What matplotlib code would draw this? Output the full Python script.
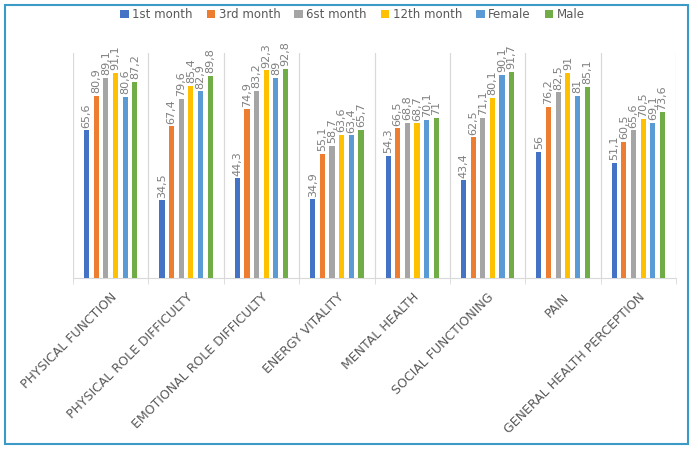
import matplotlib
matplotlib.use('Agg')
import matplotlib.pyplot as plt
import numpy as np
from matplotlib.patches import Rectangle

categories = ['PHYSICAL FUNCTION', 'PHYSICAL ROLE DIFFICULTY', 'EMOTIONAL ROLE DIFFICULTY',
              'ENERGY VITALITY', 'MENTAL HEALTH', 'SOCIAL FUNCTIONING', 'PAIN',
              'GENERAL HEALTH PERCEPTION']
series_names = ['1st month', '3rd month', '6st month', '12th month', 'Female', 'Male']

month1 = [65.6, 34.5, 44.3, 34.9, 54.3, 43.4, 56, 51.1]
month3 = [80.9, 67.4, 74.9, 55.1, 66.5, 62.5, 76.2, 60.5]
month6 = [89.1, 79.6, 83.2, 58.7, 68.8, 71.1, 82.5, 65.6]
month12 = [91.1, 85.4, 92.3, 63.6, 68.7, 80.1, 91, 70.5]
female = [80.6, 82.9, 89, 63.4, 70.1, 90.1, 81, 69.1]
male = [87.2, 89.8, 92.8, 65.7, 71, 91.7, 85.1, 73.6]

series = [month1, month3, month6, month12, female, male]
colors = ['#4472C4', '#ED7D31', '#A5A5A5', '#FFC000', '#5B9BD5', '#70AD47']

fig = plt.figure(figsize=(6.98, 4.53), dpi=100)
ax = fig.add_axes([0.1046, 0.3863, 0.8639, 0.4967])

x = np.arange(len(categories))
pitch = 0.128
width = 0.068

def fmt(v):
    return ('%g' % v).replace('.', ',')

for j, (vals, name, c) in enumerate(zip(series, series_names, colors)):
    xs = x + (j - 2.5) * pitch
    ax.bar(xs, vals, width, color=c, label=name, zorder=3)
    for xi, v in zip(xs, vals):
        ax.annotate(fmt(v), (xi, v), xytext=(0, 2), textcoords='offset points',
                    rotation=90, ha='center', va='bottom', fontsize=8,
                    color='#7F7F7F')

ax.set_xlim(-0.5, len(categories) - 0.5)
ax.set_ylim(0, 100)
ax.set_yticks([])
for b in np.arange(-0.5, len(categories), 1):
    ax.axvline(b, color='#D9D9D9', lw=0.9, zorder=1)

for s in ['top', 'right', 'left']:
    ax.spines[s].set_visible(False)
ax.spines['bottom'].set_color('#D9D9D9')

ax.set_xticks(np.arange(-0.5, len(categories), 1), minor=True)
ax.tick_params(axis='x', which='minor', length=4, color='#D9D9D9')
ax.set_xticks(x)
ax.set_xticklabels(categories, rotation=45, ha='right', rotation_mode='anchor',
                   fontsize=9, color='#595959')
ax.tick_params(axis='x', which='major', length=0, pad=9)

fig.legend(loc='center', bbox_to_anchor=(0.505, 0.968), ncol=6, frameon=False,
           fontsize=8.5, handlelength=0.7, handleheight=0.7, handletextpad=0.3,
           columnspacing=1.2, labelcolor='#595959')

fig.patches.append(Rectangle((0.0072, 0.0199), 0.9785, 0.969, transform=fig.transFigure,
                             fill=False, edgecolor='#3C9AC6', lw=1.5))

fig.savefig('out.png', dpi=100)
